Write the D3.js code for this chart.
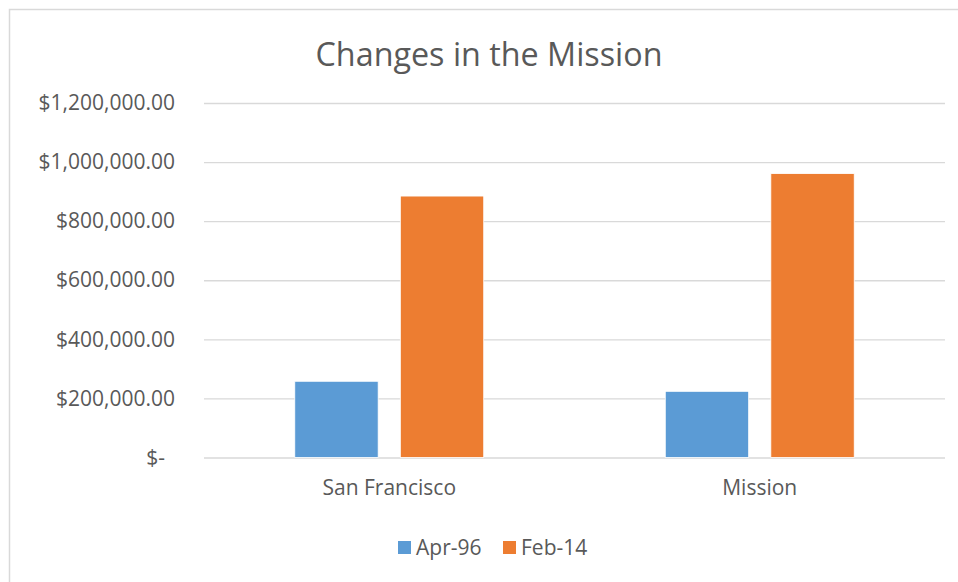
<!DOCTYPE html>
<html lang="en">
<head>
    <meta charset="UTF-8">
    <title>Changes in the Mission</title>
    <script src="https://d3js.org/d3.v7.min.js"></script>
    <style>
        body { margin: 0; background: #fff; }
        text { font-family: "Open Sans", sans-serif; fill: #595959; }
    </style>
</head>
<body>
    <script>
        const categories = ["San Francisco", "Mission"];
        const seriesNames = ["Apr-96", "Feb-14"];
        const apr96 = [258000, 224000];
        const feb14 = [885000, 961000];
        const yTicks = [0, 200000, 400000, 600000, 800000, 1000000, 1200000];
        const colors = ["#5B9BD5", "#ED7D31"];

        const width = 958;
        const height = 582;
        const margin = {top: 103, right: 13, bottom: 124.5, left: 204};
        const labelSize = 21;

        const data = categories.map((c, i) => ({category: c, values: [apr96[i], feb14[i]]}));

        const svg = d3.select("body").append("svg")
            .attr("width", width)
            .attr("height", height);

        // chart border (open on the right/bottom like the crop)
        svg.append("rect")
            .attr("x", 9.5)
            .attr("y", 9.5)
            .attr("width", 960)
            .attr("height", 600)
            .attr("fill", "none")
            .attr("stroke", "#d9d9d9")
            .attr("stroke-width", 1.5);

        const x0 = d3.scaleBand()
            .domain(categories)
            .range([margin.left, width - margin.right]);

        const x1 = d3.scaleBand()
            .domain(seriesNames)
            .range([0, x0.bandwidth()])
            .paddingInner(0.21)
            .paddingOuter(0.86);

        const y = d3.scaleLinear()
            .domain([0, 1200000])
            .range([height - margin.bottom, margin.top]);

        const fmt = d => d === 0 ? "$-" : "$" + d3.format(",.2f")(d);

        const yAxis = svg.append("g")
            .attr("transform", `translate(${margin.left},0)`)
            .call(d3.axisLeft(y)
                .tickValues(yTicks)
                .tickSize(-(width - margin.right - margin.left))
                .tickFormat(fmt));
        yAxis.select(".domain").remove();
        yAxis.selectAll("line")
            .attr("stroke", "#d9d9d9")
            .attr("stroke-width", 1.3);
        yAxis.selectAll("text")
            .attr("x", d => d === 0 ? -39 : -29)
            .attr("font-size", labelSize)
            .style("fill", "#595959");

        const groups = svg.append("g")
            .selectAll("g")
            .data(data)
            .join("g")
            .attr("transform", d => `translate(${x0(d.category)},0)`);

        groups.selectAll("rect")
            .data(d => d.values.map((v, i) => ({key: seriesNames[i], value: v, i})))
            .join("rect")
            .attr("x", d => x1(d.key))
            .attr("y", d => y(d.value))
            .attr("width", x1.bandwidth())
            .attr("height", d => y(0) - y(d.value))
            .attr("fill", d => colors[d.i])
            .attr("stroke", "#fff")
            .attr("stroke-width", 0.8);

        const xAxis = svg.append("g")
            .attr("transform", `translate(0,${y(0)})`)
            .call(d3.axisBottom(x0).tickSize(0).tickPadding(23));
        xAxis.select(".domain").remove();
        xAxis.selectAll("text")
            .attr("font-size", labelSize)
            .style("fill", "#595959");

        svg.append("text")
            .attr("x", 489)
            .attr("y", 66)
            .attr("text-anchor", "middle")
            .attr("font-size", 32.3)
            .text("Changes in the Mission");

        const legend = svg.append("g")
            .attr("transform", "translate(398,541)");
        const legendX = d3.scaleOrdinal().domain(seriesNames).range([0, 105]);
        const item = legend.selectAll("g")
            .data(seriesNames)
            .join("g")
            .attr("transform", d => `translate(${legendX(d)},0)`);
        item.append("rect")
            .attr("width", 13)
            .attr("height", 13)
            .attr("fill", (d, i) => colors[i]);
        item.append("text")
            .attr("x", 18)
            .attr("y", 14)
            .attr("font-size", labelSize)
            .text(d => d);
    </script>
</body>
</html>
